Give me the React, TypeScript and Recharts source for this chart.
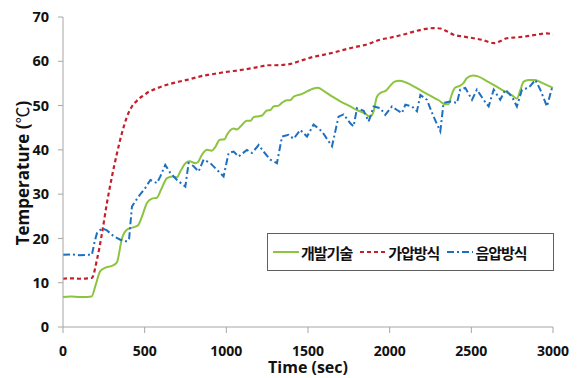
import { LineChart, Line, XAxis, YAxis, Legend } from 'recharts';

// 개발기술 (green, solid)
const devTime = [0, 50, 100, 150, 175, 200, 228, 260, 300, 330, 361, 392, 430, 460, 484, 514, 545, 575, 600, 637, 670, 698, 718, 750, 775, 810, 825, 851, 882, 910, 930, 960, 990, 1004, 1045, 1065, 1085, 1126, 1150, 1167, 1200, 1220, 1249, 1270, 1289, 1320, 1340, 1371, 1390, 1412, 1440, 1453, 1494, 1530, 1560, 1600, 1650, 1700, 1750, 1800, 1850, 1880, 1900, 1922, 1950, 1975, 2004, 2030, 2060, 2100, 2150, 2200, 2250, 2300, 2340, 2360, 2380, 2400, 2432, 2450, 2473, 2510, 2540, 2600, 2650, 2700, 2750, 2779, 2800, 2820, 2850, 2890, 2930, 2970, 3000];
const devTemp = [6.8, 6.9, 6.8, 6.8, 6.9, 9.5, 12.6, 13.4, 13.8, 14.6, 20, 22, 22.5, 23, 25, 28, 29, 29.2, 31, 33.6, 34, 33.8, 35.1, 37, 37.4, 37, 37.2, 38.9, 40, 39.8, 40.5, 42.3, 42.4, 43.4, 44.8, 44.6, 45.2, 46.6, 46.6, 47.4, 47.6, 47.8, 48.9, 49, 49.8, 50, 50.6, 51.2, 51.2, 52, 52.4, 52.5, 53.2, 53.8, 54, 53.2, 52, 50.9, 50, 49, 48.2, 47.5, 48.5, 52, 53, 53.3, 54.5, 55.4, 55.6, 55.2, 54.3, 53.2, 52.2, 51.2, 50.3, 50.3, 52.5, 54, 54.5, 55, 56.2, 56.8, 56.6, 55.4, 54.4, 53.3, 52.3, 51.6, 53.5, 55.4, 55.8, 55.8, 55.2, 54.5, 54];

// 가압방식 (red, dashed)
const posTime = [0, 50, 100, 150, 177, 208, 239, 269, 300, 331, 361, 392, 422, 450, 473, 494, 520, 555, 596, 637, 698, 759, 800, 841, 900, 950, 1000, 1045, 1100, 1167, 1210, 1249, 1300, 1350, 1392, 1453, 1534, 1600, 1680, 1739, 1800, 1861, 1943, 2000, 2080, 2147, 2220, 2269, 2310, 2350, 2391, 2450, 2514, 2570, 2610, 2640, 2680, 2718, 2780, 2830, 2881, 2930, 2963, 3000];
const posTemp = [10.9, 11, 10.9, 11, 11.1, 15.2, 21.2, 28, 34, 39.3, 43.8, 47.5, 49.8, 51, 51.8, 52.3, 53, 53.6, 54.2, 54.7, 55.3, 55.8, 56.2, 56.6, 57, 57.3, 57.6, 57.8, 58.1, 58.5, 58.8, 59.1, 59.1, 59.2, 59.4, 60.1, 61, 61.5, 62.2, 62.8, 63.3, 63.8, 64.9, 65.3, 66, 66.7, 67.3, 67.5, 67.4, 66.8, 66, 65.6, 65.2, 64.8, 64.3, 64.1, 64.6, 65.2, 65.4, 65.6, 65.9, 66.2, 66.3, 66];

// 음압방식 (blue, dash-dot)
const negTime = [0, 50, 100, 150, 177, 195, 208, 239, 269, 310, 351, 392, 405, 422, 463, 504, 535, 575, 596, 626, 657, 698, 749, 769, 800, 830, 861, 902, 953, 983, 1014, 1045, 1075, 1126, 1157, 1198, 1228, 1269, 1310, 1341, 1381, 1412, 1453, 1494, 1534, 1585, 1647, 1687, 1718, 1759, 1779, 1800, 1841, 1871, 1902, 1943, 1973, 2014, 2045, 2075, 2096, 2137, 2167, 2188, 2228, 2269, 2310, 2330, 2371, 2412, 2432, 2463, 2504, 2534, 2575, 2606, 2637, 2677, 2708, 2749, 2779, 2810, 2851, 2892, 2922, 2963, 2994, 3000];
const negTemp = [16.3, 16.4, 16.2, 16.3, 16.3, 19.5, 21.2, 22.3, 21.8, 20.5, 19.7, 19.3, 20, 27.2, 29.5, 31.4, 33.2, 32.5, 34, 36.6, 34.8, 33.2, 31.7, 37, 36.3, 35.1, 37.8, 37, 35.1, 34, 39.3, 39.6, 38.5, 40, 39.3, 41.1, 39.6, 37.8, 37, 43, 43.4, 42.5, 44.5, 43, 45.7, 44.2, 40.8, 47.5, 48, 46, 45.3, 49.4, 48.8, 46.4, 49.8, 49.4, 47.9, 49.8, 49, 48.3, 50.2, 49.8, 48.7, 52.4, 51.3, 47.5, 44.2, 50.6, 50.9, 50.6, 53.6, 54, 51.3, 53.6, 51.3, 49.8, 53.6, 51.3, 53.6, 52, 49.8, 53.6, 54, 55.8, 53.6, 49.8, 54, 53.5];

const xTicks = [0, 500, 1000, 1500, 2000, 2500, 3000];
const yTicks = [0, 10, 20, 30, 40, 50, 60, 70];

const devData = devTime.map((t, i) => ({ t, v: devTemp[i] }));
const posData = posTime.map((t, i) => ({ t, v: posTemp[i] }));
const negData = negTime.map((t, i) => ({ t, v: negTemp[i] }));

const FONT = "'Open Sans', 'Noto Sans CJK KR', sans-serif";
const AXIS = '#a6a6a6';

const series = [
  { name: '개발기술', color: '#8cc43f', dash: undefined },
  { name: '가압방식', color: '#c4202c', dash: '4 3' },
  { name: '음압방식', color: '#1f6fbf', dash: '7 3 2 3' },
];

function LegendBox() {
  return (
    <div
      style={{
        border: '1px solid #606060',
        background: '#fff',
        display: 'flex',
        alignItems: 'center',
        height: 36,
        width: 280,
        boxSizing: 'content-box',
        paddingLeft: 5,
        fontFamily: "'Noto Sans CJK KR', sans-serif",
        fontWeight: 700,
        fontSize: 15,
        letterSpacing: -1,
        color: '#111',
      }}
    >
      {series.map((s) => (
        <div key={s.name} style={{ display: 'flex', alignItems: 'center', marginRight: 8 }}>
          <svg width={26} height={10}>
            <line x1={0} y1={5} x2={26} y2={5} stroke={s.color} strokeWidth={2} strokeDasharray={s.dash} />
          </svg>
          <span style={{ marginLeft: 2 }}>{s.name}</span>
        </div>
      ))}
    </div>
  );
}

export default function App() {
  return (
    <div style={{ position: 'absolute', left: 0, top: 0, width: 578, height: 378, background: '#fff' }}>
      <LineChart width={578} height={378} margin={{ top: 17, right: 25, left: 13, bottom: 0 }}>
        <XAxis
          dataKey="t"
          type="number"
          domain={[0, 3000]}
          ticks={xTicks}
          height={51}
          stroke={AXIS}
          tickSize={6}
          tickMargin={13}
          tick={{ fill: '#111', fontSize: 14, fontWeight: 700, fontFamily: FONT }}
          label={{
            content: () => (
              <text x={308} y={373} textAnchor="middle" fill="#111" fontSize={16} fontWeight={700} fontFamily={FONT}>
                Time (sec)
              </text>
            ),
          }}
        />
        <YAxis
          dataKey="v"
          type="number"
          domain={[0, 70]}
          ticks={yTicks}
          width={50}
          stroke={AXIS}
          tickSize={5}
          tickMargin={9}
          tick={{ fill: '#111', fontSize: 14.5, fontWeight: 700, fontFamily: FONT }}
          label={{
            content: () => (
              <text
                x={29}
                y={173}
                textAnchor="middle"
                transform="rotate(-90, 29, 173)"
                fill="#111"
                fontSize={17}
                fontWeight={700}
                fontFamily={FONT}
              >
                Temperature (<tspan fontFamily="'Noto Sans CJK KR', sans-serif" fontWeight={400}>℃</tspan>)
              </text>
            ),
          }}
        />
        <Line data={devData} dataKey="v" name="개발기술" type="monotone" stroke="#8cc43f" strokeWidth={2} dot={false} activeDot={false} isAnimationActive={false} />
        <Line data={posData} dataKey="v" name="가압방식" type="monotone" stroke="#c4202c" strokeWidth={2.2} strokeDasharray="4 3" dot={false} activeDot={false} isAnimationActive={false} />
        <Line data={negData} dataKey="v" name="음압방식" stroke="#1f6fbf" strokeWidth={2} strokeDasharray="7 3 2 3" dot={false} activeDot={false} isAnimationActive={false} />
        <Legend
          layout="horizontal"
          verticalAlign="middle"
          align="center"
          content={() => <LegendBox />}
          wrapperStyle={{ left: 267, top: 233, width: 'auto', height: 'auto' }}
        />
      </LineChart>
    </div>
  );
}
